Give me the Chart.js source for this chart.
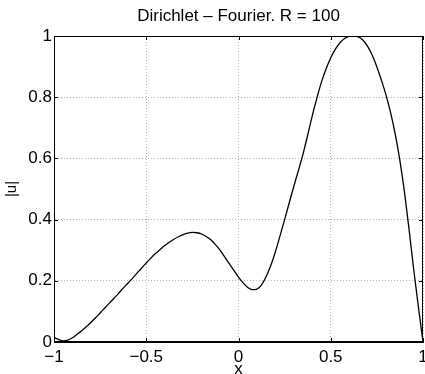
<!DOCTYPE html>
<html>
<head>
<meta charset="utf-8">
<script src="https://cdn.jsdelivr.net/npm/chart.js@4"></script>
<style>
  body { margin: 0; background: #fff; }
</style>
</head>
<body>
<canvas id="c" width="425" height="374"></canvas>
<script>
// values
const xs = [
  -1.000, -0.975, -0.950, -0.925, -0.900, -0.875, -0.850, -0.825, -0.800, -0.775,
  -0.750, -0.725, -0.700, -0.675, -0.650, -0.625, -0.600, -0.575, -0.550, -0.525,
  -0.500, -0.475, -0.450, -0.425, -0.400, -0.375, -0.350, -0.325, -0.300, -0.275,
  -0.250, -0.225, -0.200, -0.175, -0.150, -0.125, -0.100, -0.075, -0.050, -0.025,
   0.000,  0.025,  0.050,  0.075,  0.100,  0.125,  0.150,  0.175,  0.200,  0.225,
   0.250,  0.275,  0.300,  0.325,  0.350,  0.375,  0.400,  0.425,  0.450,  0.475,
   0.500,  0.525,  0.550,  0.575,  0.600,  0.625,  0.650,  0.675,  0.700,  0.725,
   0.750,  0.775,  0.800,  0.825,  0.850,  0.875,  0.900,  0.925,  0.950,  0.975,
   1.000
]
const us = [
  0.015, 0.008, 0.004, 0.006, 0.014, 0.025, 0.037, 0.050, 0.064, 0.079,
  0.095, 0.111, 0.127, 0.143, 0.159, 0.176, 0.192, 0.208, 0.225, 0.242,
  0.258, 0.274, 0.289, 0.302, 0.315, 0.326, 0.336, 0.344, 0.351, 0.356,
  0.358, 0.357, 0.353, 0.345, 0.334, 0.318, 0.300, 0.278, 0.256, 0.234,
  0.212, 0.193, 0.178, 0.171, 0.173, 0.187, 0.214, 0.250, 0.295, 0.347,
  0.400, 0.455, 0.509, 0.561, 0.615, 0.676, 0.740, 0.798, 0.850, 0.893,
  0.929, 0.957, 0.978, 0.992, 0.999, 1.000, 0.997, 0.986, 0.966, 0.937,
  0.899, 0.855, 0.806, 0.748, 0.678, 0.592, 0.488, 0.365, 0.235, 0.115,
  0.000
]
const xTicks = [-1, -0.5, 0, 0.5, 1]
const yTicks = [0, 0.2, 0.4, 0.6, 0.8, 1]

const FONT = "'Liberation Sans', Arial, Helvetica, sans-serif"

function fmt(v) {
  return v < 0 ? '\u2212' + String(-v) : String(v)
}

// box round the plot + inward tick marks, matlab style
const boxPlugin = {
  id: 'box',
  afterLayout(chart) {
    // centre the title over the axes, not the canvas
    if (chart.titleBlock) {
      chart.titleBlock.left = chart.chartArea.left
      chart.titleBlock.right = chart.chartArea.right
    }
  },
  afterDraw(chart) {
    const { ctx, chartArea: a, scales } = chart
    ctx.save()
    ctx.strokeStyle = '#000'
    ctx.lineWidth = 1
    ctx.strokeRect(a.left + 0.5, a.top + 0.5, a.right - a.left - 1, a.bottom - a.top - 1)
    ctx.beginPath()
    xTicks.forEach((t) => {
      const px = Math.round(scales.x.getPixelForValue(t)) + 0.5
      ctx.moveTo(px, a.bottom); ctx.lineTo(px, a.bottom - 4)
      ctx.moveTo(px, a.top); ctx.lineTo(px, a.top + 4)
    })
    yTicks.forEach((t) => {
      const py = Math.round(scales.y.getPixelForValue(t)) + 0.5
      ctx.moveTo(a.left, py); ctx.lineTo(a.left + 4, py)
      ctx.moveTo(a.right, py); ctx.lineTo(a.right - 4, py)
    })
    ctx.stroke()
    ctx.restore()
  },
}

new Chart(document.getElementById('c'), {
  type: 'line',
  data: {
    datasets: [
      {
        data: xs.map((x, i) => ({ x: x, y: us[i] })),
        borderColor: '#000',
        borderWidth: 1.3,
        pointRadius: 0,
        cubicInterpolationMode: 'monotone',
        fill: false,
      },
    ],
  },
  options: {
    responsive: false,
    animation: false,
    layout: { padding: { left: 0, right: 2, top: 0, bottom: 0 } },
    plugins: {
      legend: { display: false },
      tooltip: { enabled: false },
      title: {
        display: true,
        text: 'Dirichlet \u2013 Fourier. R = 100',
        color: '#000',
        font: { family: FONT, size: 17, weight: 'normal' },
        padding: { top: 6, bottom: 9.6 },
      },
    },
    scales: {
      x: {
        type: 'linear',
        min: -1,
        max: 1,
        afterBuildTicks(s) { s.ticks = xTicks.map((v) => ({ value: v })) },
        ticks: { color: '#000', font: { family: FONT, size: 17 }, padding: 5, maxRotation: 0, callback: (v) => fmt(v) },
        grid: { color: '#b4b4b4', lineWidth: 1, drawTicks: false },
        border: { display: true, color: '#000', width: 1, dash: [1, 2] },
        title: { display: true, text: 'x', color: '#000', font: { family: FONT, size: 17 }, padding: { top: 0, bottom: -6 } },
        afterFit(s) {
          s.height = 32
          s.paddingLeft = 0
          s.paddingRight = 0
        },
      },
      y: {
        min: 0,
        max: 1,
        afterBuildTicks(s) { s.ticks = yTicks.map((v) => ({ value: v })) },
        ticks: { color: '#000', font: { family: FONT, size: 17 }, padding: 2, callback: (v) => fmt(v) },
        grid: { color: '#b4b4b4', lineWidth: 1, drawTicks: false },
        border: { display: true, color: '#000', width: 1, dash: [1, 2] },
        title: { display: true, text: '|u|', color: '#000', font: { family: FONT, size: 15 }, padding: { top: 3, bottom: 0 } },
        afterFit(s) {
          s.width = 54
          s.paddingTop = 0
          s.paddingBottom = 0
        },
      },
    },
  },
  plugins: [boxPlugin],
})
</script>
</body>
</html>
